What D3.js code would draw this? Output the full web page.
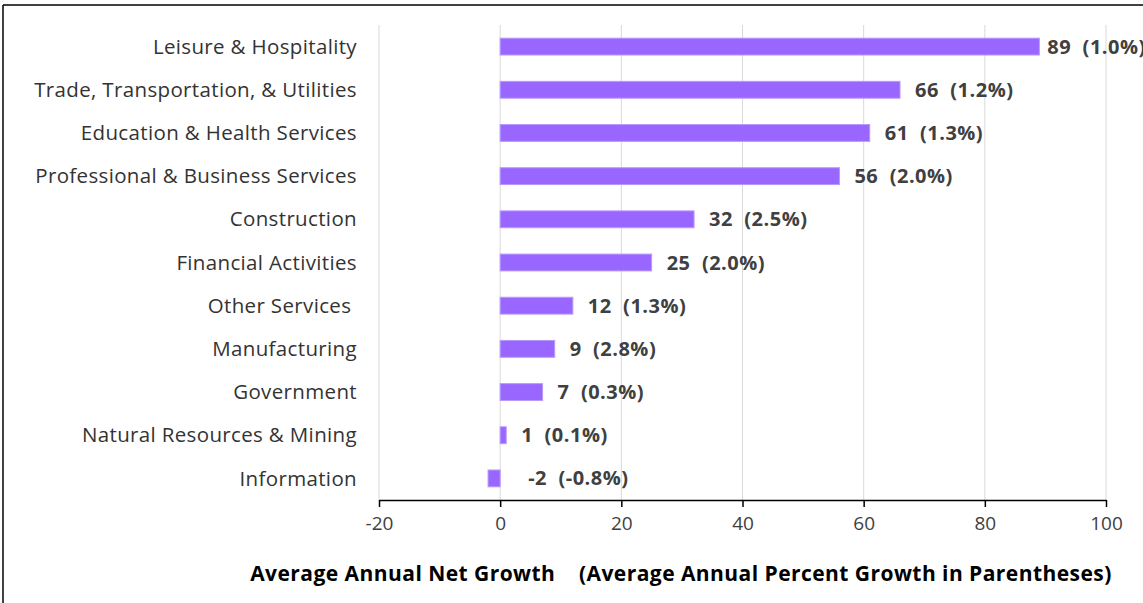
<!DOCTYPE html>
<html>
<head>
<meta charset="utf-8">
<script src="https://cdn.jsdelivr.net/npm/d3@7"></script>
<style>
  body { margin: 0; background: #fff; }
  svg text { font-family: "Open Sans", sans-serif; }
</style>
</head>
<body>
<div id="chart"></div>
<script>
// industries, top to bottom
const categories = [
  'Leisure & Hospitality',
  'Trade, Transportation, & Utilities',
  'Education & Health Services',
  'Professional & Business Services',
  'Construction',
  'Financial Activities',
  'Other Services ',
  'Manufacturing',
  'Government',
  'Natural Resources & Mining',
  'Information'
];
// average annual net growth
const netGrowth = [89, 66, 61, 56, 32, 25, 12, 9, 7, 1, -2];
// average annual percent growth (label text)
const pctGrowth = ['1.0%', '1.2%', '1.3%', '2.0%', '2.5%', '2.0%', '1.3%', '2.8%', '0.3%', '0.1%', '-0.8%'];
const xTicks = [-20, 0, 20, 40, 60, 80, 100];

const width = 1143, height = 603;
const margin = { top: 25, right: 37, bottom: 103, left: 379 };

const svg = d3.select('#chart')
  .append('svg')
  .attr('width', width)
  .attr('height', height);

// frame lines of the pasted picture
svg.append('line')
  .attr('x1', 3).attr('x2', width).attr('y1', 5).attr('y2', 5)
  .attr('stroke', '#000').attr('stroke-width', 1.5);
svg.append('line')
  .attr('x1', 3).attr('x2', 3).attr('y1', 5).attr('y2', height)
  .attr('stroke', '#000').attr('stroke-width', 1.5);

const xScale = d3.scaleLinear()
  .domain([-20, 100])
  .range([margin.left, width - margin.right]);

const yScale = d3.scaleBand()
  .domain(categories)
  .range([margin.top, height - margin.bottom])
  .paddingInner(0.61)
  .paddingOuter(0.305);

// gridlines
svg.append('g')
  .selectAll('line')
  .data(xTicks)
  .enter()
  .append('line')
  .attr('x1', d => xScale(d))
  .attr('x2', d => xScale(d))
  .attr('y1', margin.top)
  .attr('y2', height - margin.bottom)
  .attr('stroke', '#d9d9d9')
  .attr('stroke-width', 1);

// x axis
const xAxis = svg.append('g')
  .attr('transform', `translate(0, ${height - margin.bottom})`)
  .call(d3.axisBottom(xScale)
    .tickValues(xTicks)
    .tickFormat(d => String(d))
    .tickSize(7).tickSizeOuter(0).tickPadding(10));
xAxis.select('.domain').attr('stroke', '#000').attr('stroke-width', 1.5);
xAxis.selectAll('.tick line').attr('stroke', '#000').attr('stroke-width', 1.5);
xAxis.selectAll('.tick text')
  .attr('font-size', '19px')
  .attr('fill', '#404040')
  .style('font-family', '"Open Sans", sans-serif');

// bars
svg.append('g')
  .selectAll('rect')
  .data(netGrowth)
  .enter()
  .append('rect')
  .attr('x', d => xScale(Math.min(0, d)))
  .attr('y', (d, i) => yScale(categories[i]))
  .attr('width', d => Math.abs(xScale(d) - xScale(0)))
  .attr('height', yScale.bandwidth())
  .attr('fill', '#9966ff')
  .attr('stroke', '#b899ff')
  .attr('stroke-width', 1);

// category labels
svg.append('g')
  .selectAll('text')
  .data(categories)
  .enter()
  .append('text')
  .attr('x', 357)
  .attr('y', d => yScale(d) + yScale.bandwidth() / 2)
  .attr('dy', '0.35em')
  .attr('text-anchor', 'end')
  .attr('font-size', '20.5px')
  .attr('letter-spacing', '0.35px')
  .attr('fill', '#333')
  .style('white-space', 'pre')
  .text(d => d);

// value labels
svg.append('g')
  .selectAll('text')
  .data(netGrowth)
  .enter()
  .append('text')
  .attr('x', d => d < 0 ? xScale(0) + 28 : xScale(d) + (d > 80 ? 8 : 15))
  .attr('y', (d, i) => yScale(categories[i]) + yScale.bandwidth() / 2)
  .attr('dy', '0.35em')
  .attr('font-size', '20px')
  .attr('font-weight', 'bold')
  .attr('letter-spacing', '0.5px')
  .attr('fill', '#404040')
  .style('white-space', 'pre')
  .text((d, i) => d + '  (' + pctGrowth[i] + ')');

// axis title
svg.append('text')
  .attr('x', 681)
  .attr('y', 581)
  .attr('text-anchor', 'middle')
  .attr('font-size', '21px')
  .attr('font-weight', 'bold')
  .attr('letter-spacing', '0.45px')
  .attr('fill', '#000')
  .style('white-space', 'pre')
  .text('Average Annual Net Growth    (Average Annual Percent Growth in Parentheses)');
</script>
</body>
</html>
